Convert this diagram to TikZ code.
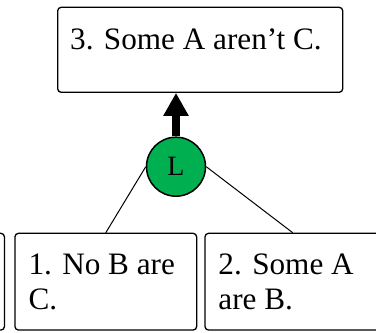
\documentclass[tikz,border=0pt]{standalone}
\usepackage{fontspec}
\setmainfont{Liberation Serif}
\newfontfamily\tnr{Liberation Serif}
\usetikzlibrary{arrows.meta}
\definecolor{lgreen}{HTML}{00B050}
\begin{document}
\begin{tikzpicture}[x=1pt,y=1pt,
  box/.style={draw=black,line width=1.3pt,rounded corners=3.5pt,fill=white,inner sep=0pt},
  txt/.style={inner sep=0pt,anchor=north west,align=left,font=\tnr\fontsize{31.2}{35}\selectfont},
  conn/.style={draw=black,line width=1pt}]
\useasboundingbox (0,0) rectangle (376,333);
\clip (0,0) rectangle (376,333);
\node[box,minimum width=285pt,minimum height=85pt] (top) at (200.2,283.2) {};
\node[box,minimum width=181.7pt,minimum height=96.7pt] (lb) at (-86.4,51.3) {};
\node[box,minimum width=181.7pt,minimum height=96.7pt] (mb) at (105.8,51.3) {};
\node[box,minimum width=175.4pt,minimum height=96.7pt] (rb) at (292.7,51.3) {};
\node[txt] (toptxt) at (70,304.2) {3. Some A aren’t C.};
\node[txt] (mbtxt) at (28.3,79.2) {1. No B are\\C.};
\node[txt] (rbtxt) at (218.3,79.2) {2. Some A\\are B.};
\node[circle,draw=black,line width=1.5pt,fill=lgreen,minimum size=59pt,inner sep=0pt,font=\tnr\fontsize{28}{30}\selectfont] (L) at (176,166.3) {L};
\draw[conn] (L.west) -- (mb.north);
\draw[conn] (L.east) -- (rb.north);
\draw[line width=8pt,-{Triangle[width=24pt,length=23pt]}] (L.north) -- (L.north |- top.south);
\end{tikzpicture}
\end{document}
